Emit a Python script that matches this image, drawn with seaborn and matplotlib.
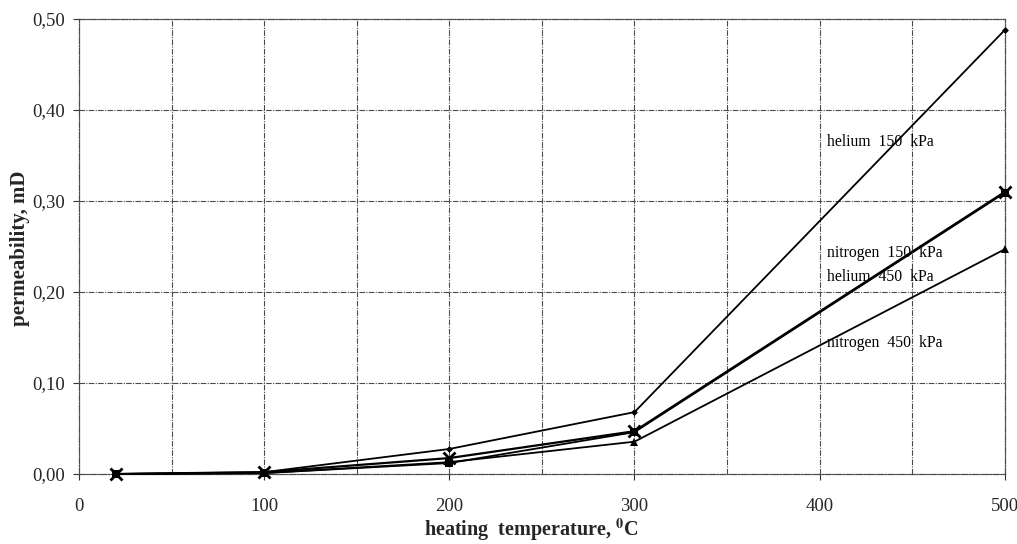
import matplotlib
matplotlib.use("Agg")
import matplotlib.pyplot as plt
import seaborn as sns
import pandas as pd

# Heating temperature (°C) and measured permeability (mD)
temperature = [20, 100, 200, 300, 500]
helium_150 = [0.000, 0.002, 0.0275, 0.068, 0.488]
nitrogen_150 = [0.000, 0.002, 0.0175, 0.047, 0.310]
helium_450 = [0.000, 0.001, 0.012, 0.046, 0.309]
nitrogen_450 = [0.000, 0.001, 0.013, 0.0355, 0.247]

series_names = ["helium  150  kPa", "nitrogen  150  kPa", "helium  450  kPa", "nitrogen  450  kPa"]
series_values = [helium_150, nitrogen_150, helium_450, nitrogen_450]

x_ticks = [0, 100, 200, 300, 400, 500]
y_ticks = [0.0, 0.1, 0.2, 0.3, 0.4, 0.5]
y_tick_labels = ["0,00", "0,10", "0,20", "0,30", "0,40", "0,50"]

# Series label positions (data coordinates)
label_x = [404, 404, 404, 404]
label_y = [0.365, 0.243, 0.216, 0.144]

sns.set_theme(style="white")
plt.rcParams["font.family"] = ["Liberation Serif", "DejaVu Serif"]
plt.rcParams["mathtext.fontset"] = "stix"

frames = []
for name, vals in zip(series_names, series_values):
    frames.append(pd.DataFrame({"temperature": temperature, "permeability": vals, "series": name}))
df = pd.concat(frames, ignore_index=True)

fig = plt.figure(figsize=(10.17, 5.44), dpi=100)
ax = fig.add_axes([0.0777, 0.1287, 0.9103, 0.8363])

grid_style = dict(color="#4a4a4a", linewidth=0.8, linestyle=(0, (5, 1.2, 1, 1.2)))
for gx in range(50, 500, 50):
    ax.axvline(gx, zorder=0, **grid_style)
for gy in [0.1, 0.2, 0.3, 0.4]:
    ax.axhline(gy, zorder=0, **grid_style)

marker_styles = {
    "helium  150  kPa": dict(marker="D", markersize=3.5, mew=0),
    "nitrogen  150  kPa": dict(marker="x", markersize=8, mew=2.0),
    "helium  450  kPa": dict(marker="s", markersize=6, mew=0),
    "nitrogen  450  kPa": dict(marker="^", markersize=6, mew=0),
}
widths = {"helium  150  kPa": 1.3, "nitrogen  150  kPa": 1.6,
          "helium  450  kPa": 1.3, "nitrogen  450  kPa": 1.3}

for name in series_names:
    sub = df[df["series"] == name]
    sns.lineplot(data=sub, x="temperature", y="permeability", ax=ax,
                 color="black", linewidth=widths[name], markeredgecolor="black",
                 markerfacecolor="black", clip_on=False, zorder=3, **marker_styles[name])

for name, lx, ly in zip(series_names, label_x, label_y):
    ax.text(lx, ly, name, fontsize=11.3, color="black", va="center", ha="left")

ax.set_xlim(0, 500)
ax.set_ylim(0, 0.5)
ax.set_xticks(x_ticks)
ax.set_xticklabels([str(t) for t in x_ticks], fontsize=13.5)
ax.set_yticks(y_ticks)
ax.set_yticklabels(y_tick_labels, fontsize=13.5)
ax.tick_params(axis="both", direction="out", length=4, width=0.8, color="#333333",
               bottom=True, left=True)
ax.tick_params(axis="x", pad=13)
ax.tick_params(axis="y", pad=6)

for side in ["left", "right", "top", "bottom"]:
    ax.spines[side].set_visible(True)
    ax.spines[side].set_color("#4a4a4a")
    ax.spines[side].set_linewidth(0.9)
    ax.spines[side].set_linestyle((0, (5, 1.2, 1, 1.2)))

ax.set_xlabel(r"heating  temperature, $^{\mathbf{0}}$C", fontsize=14.5, fontweight="bold")
ax.set_ylabel("permeability, mD", fontsize=15, fontweight="bold")
ax.xaxis.set_label_coords(0.488, -0.093)
ax.yaxis.set_label_coords(-0.053, 0.497)
ax.grid(False)

fig.savefig("out.png", dpi=100, facecolor="white")
